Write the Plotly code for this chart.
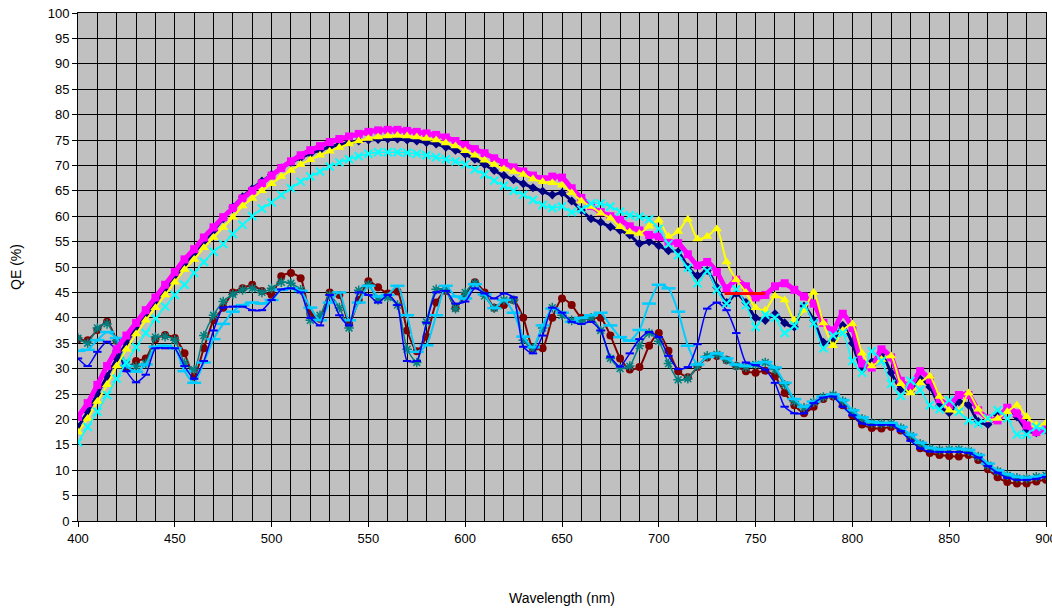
import plotly.graph_objects as go

WL = list(range(400, 905, 5))

MAGENTA = [20.5, 23.2, 26.8, 30.5, 33.8, 36.5, 39, 41.5, 44, 46.5,
           49, 51.5, 53.5, 55.8, 57.8, 59.8, 61.6, 63.5, 65, 66.5,
           68, 69.5, 70.8, 72, 73, 73.8, 74.6, 75.2, 75.7, 76.2,
           76.6, 76.9, 77, 77, 76.8, 76.6, 76.3, 76, 75.5, 74.8,
           74, 73.2, 72.4, 71.4, 70.5, 69.6, 68.8, 68, 67.3, 67.8,
           67.6, 65.5, 63.6, 62, 60.8, 60, 59.3, 58, 57.2, 56.3,
           56, 55, 54.7, 52.5, 50.3, 51, 49, 45.8, 47.5, 46.2,
           44, 44.5, 46.2, 46.8, 45.5, 44.2, 42.8, 39, 37.5, 40.8,
           38, 31, 30.2, 33.8, 32.2, 27.6, 26.6, 29.5, 27.8, 24,
           22.8, 24.8, 24.8, 21.8, 20.2, 19.8, 22.3, 21.2, 18.8, 17.5,
           18]

YELLOW = [17.5, 20.2, 23.5, 26.8, 30.5, 33.8, 36.8, 39.5, 42, 44.5,
          47, 49.5, 51.5, 53.8, 55.8, 57.8, 59.8, 62, 63.5, 65,
          66.4, 67.8, 69, 70.2, 71.1, 72, 72.8, 73.5, 74.2, 74.8,
          75.3, 75.6, 75.8, 75.9, 75.8, 75.6, 75.3, 75, 74.4, 73.8,
          72.9, 72, 71, 70.2, 69.3, 68.8, 68.2, 67.3, 66.8, 66.6,
          66.1, 64.6, 63, 61.9, 60.6, 59.6, 57.9, 56.9, 56.6, 58,
          59.2, 56, 57, 59.4, 55.5, 56, 57.5, 51, 47.5, 45,
          42, 41.5, 44.3, 43.5, 39.5, 41.5, 45, 39, 34.5, 37.5,
          38.8, 33, 30.5, 31.8, 32.5, 27, 25.2, 27.2, 28.5, 24.5,
          21.8, 21.6, 25.2, 22, 20, 20.2, 21.5, 22.8, 20.5, 18.9,
          19.3]

NAVY = [18.5, 21.5, 25, 28.5, 32, 35, 38, 40.5, 43, 45.5,
        48, 50.5, 52.8, 55, 57.2, 59.5, 61.8, 63.8, 65.4, 66.9,
        68.2, 69.5, 70.6, 71.5, 72.3, 73, 73.6, 74.1, 74.5, 74.8,
        75, 75.1, 75.2, 75.2, 75, 74.8, 74.5, 74.2, 73.6, 73,
        72.2, 71.2, 70.2, 69, 68, 67.2, 66.4, 65.6, 64.9, 64.2,
        64.6, 63, 61.2, 59.5, 58.8, 57.9, 57.2, 56.3, 54.6, 55,
        54.2, 53.2, 53, 50, 48.3, 49.3, 46, 43, 44.8, 43,
        40, 39.5, 40.8, 39, 38.2, 42.3, 39.5, 35.2, 35.5, 38.5,
        35, 29.8, 31.3, 32.9, 29.2, 26, 25.6, 28, 26.4, 22.7,
        21.3, 23.5, 22.8, 19.6, 19, 20.8, 22, 20.5, 17.8, 17.4,
        17.9]

CYAN = [15.5, 18.5, 21.5, 24.8, 28, 31.2, 34.2, 37, 39.8, 42.2,
        44.5, 46.5, 48.8, 51, 53, 54.5, 56.5, 58.3, 60, 61.5,
        62.7, 64.2, 65.5, 66.8, 67.8, 68.8, 69.8, 70.6, 71.2, 71.8,
        72.3, 72.6, 72.6, 72.6, 72.5, 72.3, 72, 71.6, 71.2, 70.8,
        70.2, 69.2, 68.2, 67, 66, 65, 64.2, 63.2, 62.2, 61.6,
        61.9, 60.8, 61.3, 62.5, 62.5, 61.9, 60.9, 60.2, 59.9, 59.4,
        57.5, 54.5, 52.3, 49.8, 46.8, 49.2, 45.5, 42.8, 45.6, 42.5,
        38.2, 40.6, 40, 37, 38.5, 42.3, 38.9, 34, 36.5, 37,
        31.5, 29.2, 33.4, 31.5, 27, 24.6, 27.6, 25.8, 22.8, 22,
        23.8, 21.5, 19.8, 19.2, 20.2, 21.8, 20.2, 17, 17, 18.5,
        17.8]

MAROON = [35.8, 35.6, 37.6, 39.2, 35.5, 30, 31.5, 32, 35.8, 36.6,
          36, 33, 28.4, 34, 39.5, 42, 45, 45.8, 46.5, 45.3,
          44.5, 48.2, 48.8, 47.8, 40.8, 39.8, 45, 44.5, 38.8, 43.5,
          47.2, 46, 44.8, 45.2, 37.5, 33.4, 36.3, 43, 45.3, 42,
          44.5, 47, 45, 42, 42.5, 43.5, 40, 34, 34, 40,
          43.8, 42.5, 40, 39.8, 40, 36.5, 32, 29.8, 30.3, 34.5,
          37, 33.5, 29.5, 28.3, 30.3, 32.2, 32.5, 31.7, 30.5, 29.5,
          29.2, 29.6, 28.5, 25.2, 22.8, 21.2, 22.5, 24, 24.5, 22.8,
          20.8, 19, 18.3, 18.2, 18.5, 17.8, 16.3, 14.3, 13.4, 13,
          12.8, 12.7, 13, 12, 10.2, 8.6, 7.7, 7.4, 7.4, 7.8,
          8.1]

TEAL = [36, 35, 38, 38.8, 35.5, 30.8, 30.4, 31, 36.2, 36.3,
        35.6, 31.1, 29.8, 36.5, 40.5, 43.2, 44.6, 45.5, 45.8, 45,
        45.8, 47, 46.8, 45.5, 39.5, 40.5, 44.5, 42, 38, 45.4,
        46.5, 43.5, 44, 42.5, 33.8, 31.2, 39.2, 45.6, 45.5, 41.8,
        45, 46.8, 44.3, 41.9, 43.5, 43.5, 35.6, 34, 38, 42,
        40.5, 39.5, 39.3, 40, 37.5, 32, 30, 30.5, 34.5, 37,
        35.4, 31, 27.8, 28, 30.5, 32.5, 32.8, 31.7, 30.5, 30.3,
        30.8, 31.2, 29.8, 26.8, 23.5, 22.3, 23.4, 24.4, 24.8, 23.6,
        21.5, 20.1, 19.3, 19.2, 19.2, 18.3, 16.8, 15.2, 14.3, 14,
        14.1, 14.1, 13.8, 12.7, 11, 9.8, 9, 8.5, 8.4, 8.7,
        9]

BLUE = [32, 30.5, 33.3, 35.3, 33.5, 29.5, 27.3, 28.8, 34, 34,
        34, 30.5, 28, 31.5, 37.5, 42, 42.2, 42.2, 41.5, 41.5,
        43.5, 45.6, 45.8, 45, 40, 38.5, 44.5, 40.5, 38.5, 45,
        44.5, 43, 44.5, 42.5, 31.5, 31.5, 39, 45, 45.3, 42.8,
        43.2, 45.8, 44.8, 43.8, 44.8, 44, 34.3, 33, 36.5, 42,
        41, 39.2, 38.8, 39.2, 37.5, 32.3, 30.4, 33, 35.8, 37.2,
        36.2, 32.5, 29.9, 30.3, 34.8, 41.8, 43, 41.5, 37, 31.2,
        30.7, 29.8, 27.2, 22.5, 21.2, 21.2, 23.2, 24.3, 24.5, 22.5,
        20.8, 19.2, 18.9, 18.9, 18.9, 17.7, 15.8, 14.3, 13.7, 13.6,
        13.6, 13.6, 13.4, 12.5, 10.8, 9.5, 8.5, 8.1, 8.1, 8.3,
        8.7]

SKY = [33.5, 33.7, 35.6, 37.2, 36, 30.5, 29.4, 30.8, 34.3, 34.5,
       34, 29.5, 27.2, 31.2, 35.8, 38.8, 41.2, 42.5, 43, 42.8,
       43.5, 45.5, 45.8, 45.3, 42, 39.5, 43, 45, 39.5, 43,
       46.3, 44.2, 44.5, 46.3, 40.5, 33.3, 34.6, 40.5, 46.3, 44.2,
       43.8, 46.6, 44.6, 41.9, 43.5, 41, 36.3, 34.2, 38.5, 41.8,
       41, 39.2, 40, 40.5, 41, 38.5, 36.2, 35.5, 37.6, 42.8,
       46.5, 45.8, 41.2, 34.5, 30.8, 32.3, 33, 32, 30.8, 30.5,
       31, 31.3, 30.2, 27.2, 24, 22.5, 23.5, 24.5, 24.9, 23.8,
       21.8, 20.4, 19.5, 19.3, 19.3, 18.5, 17, 15.4, 14.4, 14.1,
       14.2, 14.2, 14, 13, 11.3, 10, 9.2, 8.7, 8.5, 8.7,
       9]

RED_X = [734, 755]
RED_Y = [44.8, 44.8]

X_TICKS = [400, 450, 500, 550, 600, 650, 700, 750, 800, 850, 900]
Y_TICKS = list(range(0, 105, 5))

fig = go.Figure()

def add(y, color, symbol, size, lw, mline=0):
    fig.add_trace(go.Scatter(
        x=WL, y=y, mode="lines+markers",
        line=dict(color=color, width=lw, shape="spline", smoothing=0.6),
        marker=dict(symbol=symbol, size=size, color=color,
                    line=dict(color=color, width=mline)),
        showlegend=False, hoverinfo="x+y"))

# lower group
add(MAROON, "#800000", "circle", 8, 2)
add(TEAL, "#008080", "asterisk", 8, 1.5, mline=1.5)
add(SKY, "#00CCFF", "line-ew", 10, 2, mline=2.5)
add(BLUE, "#0000FF", "line-ew", 6, 1.5, mline=2)

# upper group
add(NAVY, "#000080", "diamond", 7, 3)
add(MAGENTA, "#FF00FF", "square", 8, 5)
add(YELLOW, "#FFFF00", "triangle-up", 9, 2)
add(CYAN, "#00FFFF", "x-thin", 8, 1.5, mline=2)

fig.add_trace(go.Scatter(x=RED_X, y=RED_Y, mode="lines",
                         line=dict(color="#FF0000", width=3),
                         showlegend=False))

fig.update_layout(
    width=1052, height=609,
    margin=dict(l=78, r=6, t=13, b=88, autoexpand=False),
    paper_bgcolor="white",
    plot_bgcolor="#C0C0C0",
    font=dict(family="Arial, Liberation Sans, sans-serif", size=13, color="black"),
    showlegend=False,
)
fig.update_xaxes(
    range=[400, 900], automargin=False,
    tickmode="array", tickvals=X_TICKS, ticktext=[str(v) for v in X_TICKS],
    ticklabeloverflow="allow",
    showgrid=True, gridcolor="black", gridwidth=1,
    minor=dict(dtick=10, tick0=400, showgrid=True, gridcolor="black", gridwidth=1),
    ticks="outside", ticklen=5, tickcolor="black",
    showline=True, linecolor="black", linewidth=1, mirror=True,
    zeroline=False,
    title=dict(text="Wavelength (nm)", standoff=48, font=dict(size=14)),
)
fig.update_yaxes(
    range=[0, 100], automargin=False,
    tickmode="array", tickvals=Y_TICKS, ticktext=[str(v) for v in Y_TICKS],
    ticklabeloverflow="allow",
    showgrid=True, gridcolor="black", gridwidth=1,
    ticks="outside", ticklen=5, tickcolor="black",
    showline=True, linecolor="black", linewidth=1, mirror=True,
    zeroline=False,
    title=dict(text="QE (%)", standoff=22, font=dict(size=14)),
)

fig.write_html("out.html")
